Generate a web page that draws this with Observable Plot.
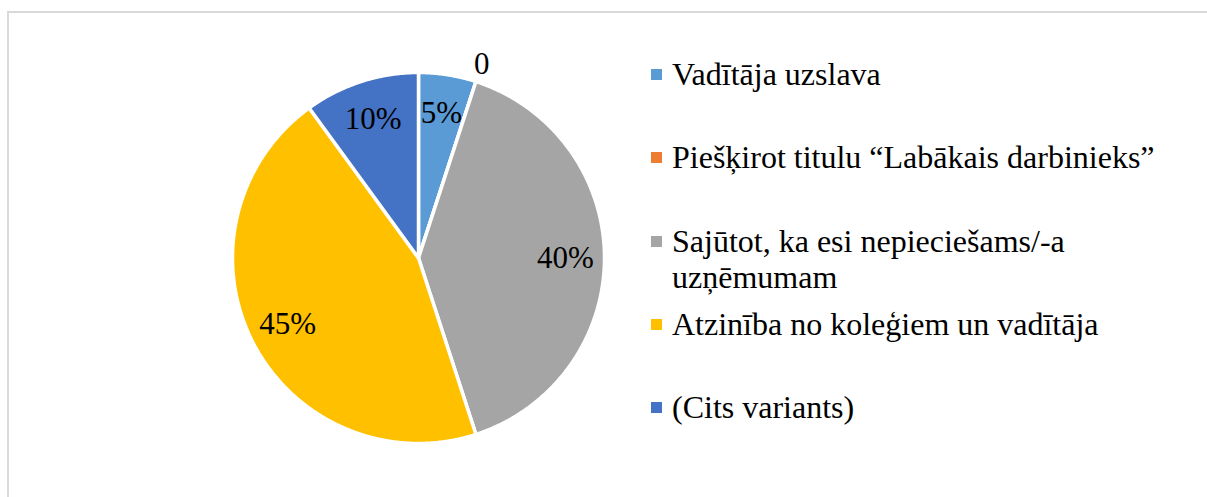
<!DOCTYPE html>
<html><head><meta charset="utf-8">
<script src="https://cdn.jsdelivr.net/npm/d3@7"></script>
<script src="https://cdn.jsdelivr.net/npm/@observablehq/plot@0.6"></script>
<style>
html,body{margin:0;padding:0;background:#fff;}
#wrap{position:relative;width:1207px;height:497px;overflow:hidden;font-family:"Liberation Serif","Times New Roman",serif;}
#frame{position:absolute;left:7px;top:11px;width:1300px;height:600px;border:2px solid #d9d9d9;box-sizing:border-box;}
#chart{position:absolute;left:0;top:0;}
#legend{position:absolute;left:651px;top:69px;}
.item{position:relative;height:83.25px;}
.sw{position:absolute;left:0;top:0;width:11px;height:11px;}
.lab{position:absolute;left:21px;top:-13px;font-family:"Liberation Serif",serif;font-size:32px;line-height:36px;color:#000;width:520px;white-space:normal;}
</style></head>
<body>
<div id="wrap"><div id="frame"></div><div id="chart"></div><div id="legend"></div></div>
<script>
const categories = ["Vadītāja uzslava", "Piešķirot titulu “Labākais darbinieks”", "Sajūtot, ka esi nepieciešams/-a uzņēmumam", "Atzinība no koleģiem un vadītāja", "(Cits variants)"];
const values = [5, 0, 40, 45, 10];
const colors = ["#5B9BD5", "#ED7D31", "#A5A5A5", "#FFC000", "#4472C4"];

const data = categories.map((name, i) => ({name, value: values[i]}));
const arcs = d3.pie().sort(null).value(d => d.value)(data);
const pts = [];
arcs.forEach(a => {
  const name = a.data.name;
  pts.push({name, x: 0, y: 0});
  const n = Math.max(1, Math.ceil((a.endAngle - a.startAngle) / (Math.PI / 360)));
  for (let k = 0; k <= n; k++) {
    const t = a.startAngle + (a.endAngle - a.startAngle) * k / n;
    pts.push({name, x: Math.sin(t), y: Math.cos(t)});
  }
});
const labels = arcs.map(a => {
  const m = (a.startAngle + a.endAngle) / 2;
  const r = a.data.value === 0 ? 1.10 : 0.79;
  return {x: r * Math.sin(m), y: r * Math.cos(m), text: a.data.value === 0 ? "0" : a.data.value + "%"};
});

const chart = Plot.plot({
  width: 1207, height: 497,
  marginLeft: 232, marginRight: 603, marginTop: 72, marginBottom: 54,
  x: {domain: [-1, 1], axis: null},
  y: {domain: [-1, 1], axis: null},
  color: {domain: categories, range: colors},
  style: {background: "transparent", fontFamily: "'Liberation Serif', serif"},
  marks: [
    Plot.line(pts, {x: "x", y: "y", z: "name", fill: "name", stroke: "white", strokeWidth: 3.5, strokeLinejoin: "round", curve: "linear-closed"}),
    Plot.text(labels, {x: "x", y: "y", text: "text", fontSize: 31, fontFamily: "'Liberation Serif', serif", fill: "black"})
  ]
});
document.getElementById("chart").appendChild(chart);

const legend = document.getElementById("legend");
categories.forEach((c, i) => {
  const item = document.createElement("div");
  item.className = "item";
  const sw = document.createElement("div");
  sw.className = "sw";
  sw.style.background = colors[i];
  const lab = document.createElement("div");
  lab.className = "lab";
  lab.textContent = c;
  item.appendChild(sw);
  item.appendChild(lab);
  legend.appendChild(item);
});
</script>
</body></html>
